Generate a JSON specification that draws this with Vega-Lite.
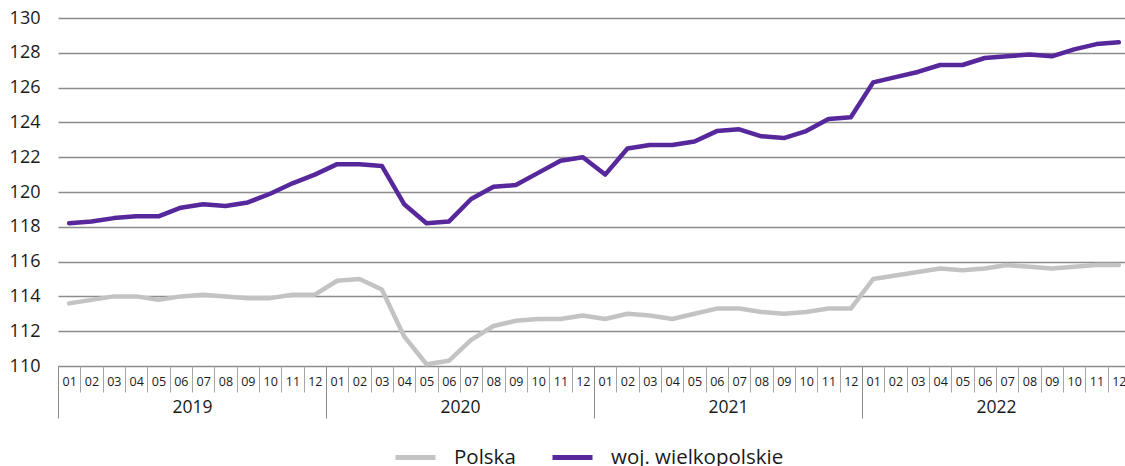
{
  "$schema": "https://vega.github.io/schema/vega-lite/v6.json",
  "autosize": {"type": "none"},
  "width": 1072,
  "height": 348,
  "padding": {"left": 58, "top": 18, "right": 0, "bottom": 100},
  "background": "white",
  "config": {
    "font": "Open Sans",
    "view": {"stroke": null}
  },
  "data": {
    "values": [
      {"t": "2019-01", "series": "Polska", "value": 113.6},
      {"t": "2019-02", "series": "Polska", "value": 113.8},
      {"t": "2019-03", "series": "Polska", "value": 114.0},
      {"t": "2019-04", "series": "Polska", "value": 114.0},
      {"t": "2019-05", "series": "Polska", "value": 113.8},
      {"t": "2019-06", "series": "Polska", "value": 114.0},
      {"t": "2019-07", "series": "Polska", "value": 114.1},
      {"t": "2019-08", "series": "Polska", "value": 114.0},
      {"t": "2019-09", "series": "Polska", "value": 113.9},
      {"t": "2019-10", "series": "Polska", "value": 113.9},
      {"t": "2019-11", "series": "Polska", "value": 114.1},
      {"t": "2019-12", "series": "Polska", "value": 114.1},
      {"t": "2020-01", "series": "Polska", "value": 114.9},
      {"t": "2020-02", "series": "Polska", "value": 115.0},
      {"t": "2020-03", "series": "Polska", "value": 114.4},
      {"t": "2020-04", "series": "Polska", "value": 111.7},
      {"t": "2020-05", "series": "Polska", "value": 110.1},
      {"t": "2020-06", "series": "Polska", "value": 110.3},
      {"t": "2020-07", "series": "Polska", "value": 111.5},
      {"t": "2020-08", "series": "Polska", "value": 112.3},
      {"t": "2020-09", "series": "Polska", "value": 112.6},
      {"t": "2020-10", "series": "Polska", "value": 112.7},
      {"t": "2020-11", "series": "Polska", "value": 112.7},
      {"t": "2020-12", "series": "Polska", "value": 112.9},
      {"t": "2021-01", "series": "Polska", "value": 112.7},
      {"t": "2021-02", "series": "Polska", "value": 113.0},
      {"t": "2021-03", "series": "Polska", "value": 112.9},
      {"t": "2021-04", "series": "Polska", "value": 112.7},
      {"t": "2021-05", "series": "Polska", "value": 113.0},
      {"t": "2021-06", "series": "Polska", "value": 113.3},
      {"t": "2021-07", "series": "Polska", "value": 113.3},
      {"t": "2021-08", "series": "Polska", "value": 113.1},
      {"t": "2021-09", "series": "Polska", "value": 113.0},
      {"t": "2021-10", "series": "Polska", "value": 113.1},
      {"t": "2021-11", "series": "Polska", "value": 113.3},
      {"t": "2021-12", "series": "Polska", "value": 113.3},
      {"t": "2022-01", "series": "Polska", "value": 115.0},
      {"t": "2022-02", "series": "Polska", "value": 115.2},
      {"t": "2022-03", "series": "Polska", "value": 115.4},
      {"t": "2022-04", "series": "Polska", "value": 115.6},
      {"t": "2022-05", "series": "Polska", "value": 115.5},
      {"t": "2022-06", "series": "Polska", "value": 115.6},
      {"t": "2022-07", "series": "Polska", "value": 115.8},
      {"t": "2022-08", "series": "Polska", "value": 115.7},
      {"t": "2022-09", "series": "Polska", "value": 115.6},
      {"t": "2022-10", "series": "Polska", "value": 115.7},
      {"t": "2022-11", "series": "Polska", "value": 115.8},
      {"t": "2022-12", "series": "Polska", "value": 115.8},
      {"t": "2019-01", "series": "woj. wielkopolskie", "value": 118.2},
      {"t": "2019-02", "series": "woj. wielkopolskie", "value": 118.3},
      {"t": "2019-03", "series": "woj. wielkopolskie", "value": 118.5},
      {"t": "2019-04", "series": "woj. wielkopolskie", "value": 118.6},
      {"t": "2019-05", "series": "woj. wielkopolskie", "value": 118.6},
      {"t": "2019-06", "series": "woj. wielkopolskie", "value": 119.1},
      {"t": "2019-07", "series": "woj. wielkopolskie", "value": 119.3},
      {"t": "2019-08", "series": "woj. wielkopolskie", "value": 119.2},
      {"t": "2019-09", "series": "woj. wielkopolskie", "value": 119.4},
      {"t": "2019-10", "series": "woj. wielkopolskie", "value": 119.9},
      {"t": "2019-11", "series": "woj. wielkopolskie", "value": 120.5},
      {"t": "2019-12", "series": "woj. wielkopolskie", "value": 121.0},
      {"t": "2020-01", "series": "woj. wielkopolskie", "value": 121.6},
      {"t": "2020-02", "series": "woj. wielkopolskie", "value": 121.6},
      {"t": "2020-03", "series": "woj. wielkopolskie", "value": 121.5},
      {"t": "2020-04", "series": "woj. wielkopolskie", "value": 119.3},
      {"t": "2020-05", "series": "woj. wielkopolskie", "value": 118.2},
      {"t": "2020-06", "series": "woj. wielkopolskie", "value": 118.3},
      {"t": "2020-07", "series": "woj. wielkopolskie", "value": 119.6},
      {"t": "2020-08", "series": "woj. wielkopolskie", "value": 120.3},
      {"t": "2020-09", "series": "woj. wielkopolskie", "value": 120.4},
      {"t": "2020-10", "series": "woj. wielkopolskie", "value": 121.1},
      {"t": "2020-11", "series": "woj. wielkopolskie", "value": 121.8},
      {"t": "2020-12", "series": "woj. wielkopolskie", "value": 122.0},
      {"t": "2021-01", "series": "woj. wielkopolskie", "value": 121.0},
      {"t": "2021-02", "series": "woj. wielkopolskie", "value": 122.5},
      {"t": "2021-03", "series": "woj. wielkopolskie", "value": 122.7},
      {"t": "2021-04", "series": "woj. wielkopolskie", "value": 122.7},
      {"t": "2021-05", "series": "woj. wielkopolskie", "value": 122.9},
      {"t": "2021-06", "series": "woj. wielkopolskie", "value": 123.5},
      {"t": "2021-07", "series": "woj. wielkopolskie", "value": 123.6},
      {"t": "2021-08", "series": "woj. wielkopolskie", "value": 123.2},
      {"t": "2021-09", "series": "woj. wielkopolskie", "value": 123.1},
      {"t": "2021-10", "series": "woj. wielkopolskie", "value": 123.5},
      {"t": "2021-11", "series": "woj. wielkopolskie", "value": 124.2},
      {"t": "2021-12", "series": "woj. wielkopolskie", "value": 124.3},
      {"t": "2022-01", "series": "woj. wielkopolskie", "value": 126.3},
      {"t": "2022-02", "series": "woj. wielkopolskie", "value": 126.6},
      {"t": "2022-03", "series": "woj. wielkopolskie", "value": 126.9},
      {"t": "2022-04", "series": "woj. wielkopolskie", "value": 127.3},
      {"t": "2022-05", "series": "woj. wielkopolskie", "value": 127.3},
      {"t": "2022-06", "series": "woj. wielkopolskie", "value": 127.7},
      {"t": "2022-07", "series": "woj. wielkopolskie", "value": 127.8},
      {"t": "2022-08", "series": "woj. wielkopolskie", "value": 127.9},
      {"t": "2022-09", "series": "woj. wielkopolskie", "value": 127.8},
      {"t": "2022-10", "series": "woj. wielkopolskie", "value": 128.2},
      {"t": "2022-11", "series": "woj. wielkopolskie", "value": 128.5},
      {"t": "2022-12", "series": "woj. wielkopolskie", "value": 128.6}
    ]
  },
  "layer": [
    {
      "mark": {"type": "rule", "opacity": 0},
      "encoding": {
        "x": {
          "field": "t",
          "type": "ordinal",
          "scale": {"type": "band", "paddingInner": 0, "paddingOuter": 0},
          "axis": {
            "orient": "bottom",
            "title": null,
            "labelExpr": "datum.value ? substring(datum.value, 5, 7) : ''",
            "labelAngle": 0,
            "labelFontSize": 12.5,
            "labelColor": "#1a1a1a",
            "labelPadding": -17,
            "labelOverlap": false,
            "ticks": true,
            "tickBand": "extent",
            "tickSize": 26,
            "tickColor": "#a6a6a6",
            "tickWidth": 1,
            "domain": false,
            "grid": false
          }
        }
      }
    },
    {
      "mark": {"type": "line", "strokeWidth": 4.5, "strokeJoin": "round", "strokeCap": "round"},
      "encoding": {
        "x": {
          "field": "t",
          "type": "ordinal",
          "scale": {"type": "band", "paddingInner": 0, "paddingOuter": 0},
          "axis": null
        },
        "y": {
          "field": "value",
          "type": "quantitative",
          "scale": {"domain": [110, 130], "zero": false, "nice": false},
          "axis": {
            "title": null,
            "values": [110, 112, 114, 116, 118, 120, 122, 124, 126, 128, 130],
            "domain": false,
            "ticks": false,
            "tickSize": 0,
            "labelPadding": 18,
            "labelFontSize": 18,
            "labelColor": "#1a1a1a",
            "grid": true,
            "gridColor": "#8c8c8c",
            "gridWidth": 1.5
          }
        },
        "color": {
          "field": "series",
          "type": "nominal",
          "scale": {
            "domain": ["Polska", "woj. wielkopolskie"],
            "range": ["#c3c3c3", "#56289c"]
          },
          "legend": {
            "title": null,
            "orient": "none",
            "direction": "horizontal",
            "legendX": 335,
            "legendY": 417,
            "symbolType": "stroke",
            "symbolSize": 1600,
            "symbolStrokeWidth": 5,
            "labelFontSize": 20.5,
            "labelLimit": 400,
            "labelColor": "#1a1a1a",
            "labelOffset": 16,
            "columnPadding": 26
          }
        }
      }
    },
    {
      "data": {
        "values": [
          {"year": "2019"},
          {"year": "2020"},
          {"year": "2021"},
          {"year": "2022"}
        ]
      },
      "mark": {"type": "rule", "opacity": 0},
      "encoding": {
        "x": {
          "field": "year",
          "type": "ordinal",
          "scale": {"type": "band", "paddingInner": 0, "paddingOuter": 0},
          "axis": {
            "orient": "bottom",
            "title": null,
            "labelAngle": 0,
            "labelFontSize": 17.5,
            "labelColor": "#1a1a1a",
            "labelPadding": -20,
            "ticks": true,
            "tickBand": "extent",
            "tickSize": 52,
            "tickColor": "#8c8c8c",
            "tickWidth": 1,
            "domain": false,
            "grid": false
          }
        }
      }
    }
  ],
  "resolve": {"scale": {"x": "independent"}, "axis": {"x": "independent"}}
}
